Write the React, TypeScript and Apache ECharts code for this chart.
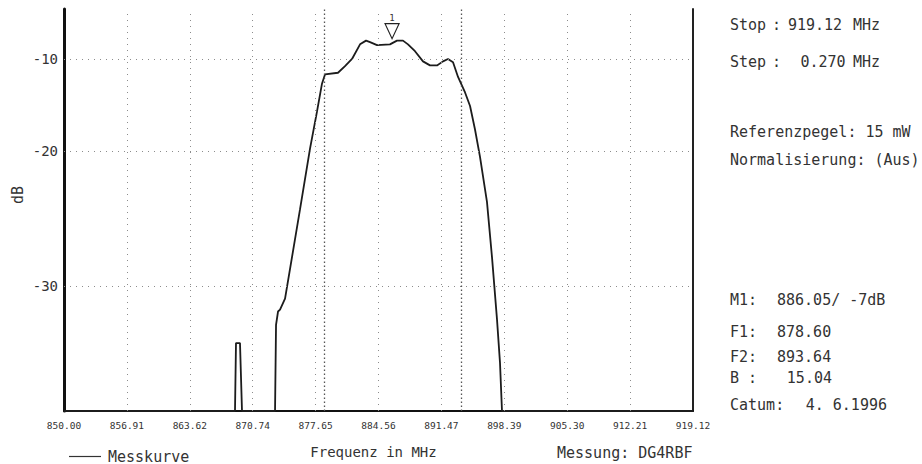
import React, { useEffect, useRef } from "react";
import * as echarts from "echarts";

// ---- data ----
const freqMHz = [850.0, 868.79, 868.9, 869.34, 869.56, 873.19, 873.3, 873.52, 873.74, 874.29, 875.93, 877.03, 877.8, 878.35, 878.68, 880.11, 880.88, 881.65, 882.53, 883.19, 883.63, 884.4, 885.82, 886.59, 887.25, 887.8, 888.57, 889.45, 890.22, 890.99, 891.65, 892.2, 892.75, 893.3, 894.07, 894.62, 895.16, 895.71, 896.48, 897.03, 897.58, 897.91, 898.13, 919.12];
const levelDb = [-35.9, -35.9, -33.0, -33.0, -35.9, -35.9, -32.1, -31.4, -31.3, -30.7, -24.9, -19.8, -16.1, -13.0, -11.9, -11.7, -10.9, -10.0, -8.1, -7.6, -7.8, -8.2, -8.1, -7.6, -7.6, -8.1, -9.0, -10.3, -10.8, -10.8, -10.3, -10.0, -10.4, -12.2, -14.0, -15.5, -17.9, -20.5, -24.3, -28.2, -31.8, -33.9, -35.9, -35.9];

const xTickValues = [850.0, 856.912, 863.824, 870.736, 877.648, 884.56, 891.472, 898.384, 905.296, 912.208, 919.12];
const xTickLabels = ["850.00", "856.91", "863.62", "870.74", "877.65", "884.56", "891.47", "898.39", "905.30", "912.21", "919.12"];
const yTickDb = [-10, -20, -30];
const yTickLabels = ["-10", "-20", "-30"];

const m1Freq = 886.05;
const m1Db = -7;
const f1Freq = 878.6;
const f2Freq = 893.64;

// plotter display scale (non-linear dB axis): log of (dB + offset)
const DB_OFFSET = 47;
const Y_MIN_DB = -35.9;
const Y_MAX_DB = -3.1;

const panelRows = [
  { y: 25, parts: [["Stop", 730, "left"], [":", 772, "left"], ["919.12", 815, "center"], ["MHz", 853, "left"]] },
  { y: 62, parts: [["Step", 730, "left"], [":", 772, "left"], ["0.270", 823, "center"], ["MHz", 853, "left"]] },
  { y: 132, parts: [["Referenzpegel: 15 mW", 730, "left"]] },
  { y: 160, parts: [["Normalisierung: (Aus)", 730, "left"]] },
  { y: 300, parts: [["M1:", 730, "left"], ["886.05/ -7dB", 777, "left"]] },
  { y: 332, parts: [["F1:", 730, "left"], ["878.60", 777, "left"]] },
  { y: 357, parts: [["F2:", 730, "left"], ["893.64", 777, "left"]] },
  { y: 378, parts: [["B :", 730, "left"], ["15.04", 832, "right"]] },
  { y: 405, parts: [["Catum:", 730, "left"], ["4. 6.1996", 887, "right"]] },
];

const FONT = '"DejaVu Sans Mono", "Liberation Mono", monospace';
const INK = "#333333";

export default function App() {
  const ref = useRef<HTMLDivElement>(null);
  useEffect(() => {
    if (!ref.current) return;
    const chart = echarts.init(ref.current, null, { renderer: "svg" });

    const gridStyle = { color: "#8c8c8c", width: 1, type: [1, 5] };
    const markerStyle = { color: "#555", width: 1.3, type: [1.5, 2.5] };

    const texts: any[] = [];
    panelRows.forEach((row) => {
      row.parts.forEach(([t, x, align]) => {
        texts.push({
          type: "text",
          x: x as number,
          y: row.y,
          style: {
            text: t as string,
            font: `15px ${FONT}`,
            fill: INK,
            align: align as string,
            textAlign: align as string,
            verticalAlign: "middle",
            textVerticalAlign: "middle",
          },
        });
      });
    });
    texts.push({
      type: "text",
      x: 557,
      y: 453,
      style: { text: "Messung: DG4RBF", font: `15px ${FONT}`, fill: INK, align: "left", textAlign: "left", verticalAlign: "middle", textVerticalAlign: "middle" },
    });
    texts.push({
      type: "text",
      x: 18,
      y: 195,
      rotation: Math.PI / 2,
      style: { text: "dB", font: `15px ${FONT}`, fill: INK, align: "center", textAlign: "center", verticalAlign: "middle", textVerticalAlign: "middle" },
    });

    const option: any = {
      animation: false,
      backgroundColor: "#fff",
      grid: { left: 64, right: 229, top: 9, bottom: 53 },
      legend: {
        left: 64,
        top: 444,
        icon: "rect",
        itemWidth: 32,
        itemHeight: 1.2,
        itemGap: 6,
        data: ["Messkurve"],
        textStyle: { fontFamily: FONT, fontSize: 15, color: INK, padding: [0, 0, 0, 2] },
      },
      xAxis: {
        type: "value",
        min: xTickValues[0],
        max: xTickValues[xTickValues.length - 1],
        name: "Frequenz in MHz",
        nameLocation: "middle",
        nameGap: 34,
        nameTextStyle: { fontFamily: FONT, fontSize: 14, color: INK, padding: [0, 10, 0, 0] },
        axisLine: { show: true, lineStyle: { color: "#111", width: 2 } },
        axisTick: { show: false },
        splitLine: { show: false },
        axisLabel: {
          customValues: xTickValues,
          fontFamily: FONT,
          fontSize: 9.5,
          color: INK,
          margin: 9,
          formatter: (v: number) => {
            let best = 0;
            xTickValues.forEach((t, i) => {
              if (Math.abs(t - v) < Math.abs(xTickValues[best] - v)) best = i;
            });
            return xTickLabels[best];
          },
        },
      },
      yAxis: [
        {
          type: "log",
          logBase: 10,
          min: Y_MIN_DB + DB_OFFSET,
          max: Y_MAX_DB + DB_OFFSET,
          axisLine: { show: true, lineStyle: { color: "#111", width: 3 } },
          axisTick: { show: false },
          axisLabel: { show: false },
          splitLine: { show: false },
        },
        {
          type: "value",
          position: "right",
          min: 0,
          max: 1,
          axisLine: { show: true, lineStyle: { color: "#222", width: 2 } },
          axisTick: { show: false },
          axisLabel: { show: false },
          splitLine: { show: false },
        },
      ],
      series: [
        {
          name: "Messkurve",
          type: "line",
          yAxisIndex: 0,
          symbol: "none",
          smooth: false,
          clip: true,
          lineStyle: { color: "#1c1c1c", width: 1.8 },
          itemStyle: { color: "#333" },
          data: freqMHz.map((f, i) => [f, levelDb[i] + DB_OFFSET]),
          markLine: {
            silent: true,
            symbol: ["none", "none"],
            animation: false,
            label: { show: false },
            data: [
              ...xTickValues.slice(1, -1).map((v) => ({ xAxis: v, lineStyle: gridStyle, label: { show: false } })),
              ...yTickDb.map((d, i) => ({
                yAxis: d + DB_OFFSET,
                lineStyle: gridStyle,
                label: {
                  show: true,
                  position: "start",
                  distance: 6,
                  formatter: yTickLabels[i],
                  fontFamily: FONT,
                  fontSize: 14,
                  color: INK,
                },
              })),
              { xAxis: f1Freq, lineStyle: markerStyle, label: { show: false } },
              { xAxis: f2Freq, lineStyle: markerStyle, label: { show: false } },
            ],
          },
          markPoint: {
            silent: true,
            animation: false,
            data: [
              {
                coord: [m1Freq, m1Db + DB_OFFSET],
                symbol: "path://M0 0 L14 0 L7 15 Z",
                symbolSize: [14, 15],
                symbolOffset: [0, -5],
                itemStyle: { color: "#fff", borderColor: "#222", borderWidth: 1.2 },
                label: { show: true, formatter: "1", position: "top", distance: 1, fontSize: 9, fontFamily: FONT, color: INK },
              },
            ],
          },
        },
      ],
      graphic: texts,
    };
    chart.setOption(option);
    return () => chart.dispose();
  }, []);
  return <div ref={ref} style={{ width: 922, height: 464, position: "absolute", left: 0, top: 0 }} />;
}
